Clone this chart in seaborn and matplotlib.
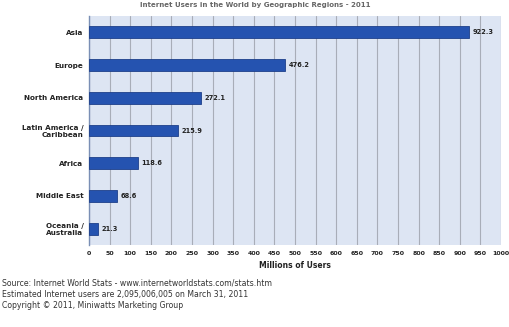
import matplotlib
matplotlib.use("Agg")
import matplotlib.pyplot as plt
import seaborn as sns
import pandas as pd
import numpy as np

regions = ["Asia", "Europe", "North America", "Latin America /\nCaribbean",
           "Africa", "Middle East", "Oceania /\nAustralia"]
users = [922.3, 476.2, 272.1, 215.9, 118.6, 68.6, 21.3]
xticks = list(range(0, 1001, 50))

df = pd.DataFrame({"region": regions, "users": users})

sns.set_theme(style="white")
plt.rcParams["font.family"] = ["DejaVu Sans"]

fig = plt.figure(figsize=(5.10, 3.27), dpi=100)
ax = fig.add_axes([89/510, 1-245/327, (501-89)/510, (245-16)/327])
ax.set_facecolor("#dde5f3")

sns.barplot(data=df, x="users", y="region", orient="h", color="#2553b0",
            width=0.36, ax=ax, saturation=1, edgecolor="#1d3f8a", linewidth=0.6, zorder=3)

ax.set_xlim(0, 1000)
ax.set_xticks(xticks)
ax.set_xticklabels([str(t) for t in xticks], fontsize=4.5, fontweight="bold", color="#222222")
ax.tick_params(axis="x", length=0, pad=4)
ax.tick_params(axis="y", length=0, pad=4)
for lab in ax.get_yticklabels():
    lab.set_fontsize(5.2)
    lab.set_fontweight("bold")
    lab.set_color("#222222")
ax.set_ylabel("")
ax.set_xlabel("Millions of Users", fontsize=5.5, fontweight="bold", color="#222222", labelpad=4)
ax.xaxis.grid(True, color="#a8adb8", linewidth=0.8, zorder=0)
ax.set_axisbelow(True)
for s in ["top", "right", "bottom"]:
    ax.spines[s].set_visible(False)
ax.spines["left"].set_color("#7a8fb5")
ax.spines["left"].set_linewidth(1.0)

for i, v in enumerate(users):
    ax.text(v + 8, i, f"{v:.1f}", va="center", ha="left", fontsize=4.8,
            fontweight="bold", color="#222222", zorder=4)

fig.text(0.5, 1-5/327, "Internet Users in the World by Geographic Regions - 2011",
         ha="center", va="center", fontsize=5, fontweight="bold", color="#666666")

foot = ("Source: Internet World Stats - www.internetworldstats.com/stats.htm\n"
        "Estimated Internet users are 2,095,006,005 on March 31, 2011\n"
        "Copyright \u00a9 2011, Miniwatts Marketing Group")
fig.text(2/510, 1-279/327, foot, ha="left", va="top", fontsize=5.6,
         color="#333333", linespacing=1.3)

fig.savefig("out.png", dpi=100)
